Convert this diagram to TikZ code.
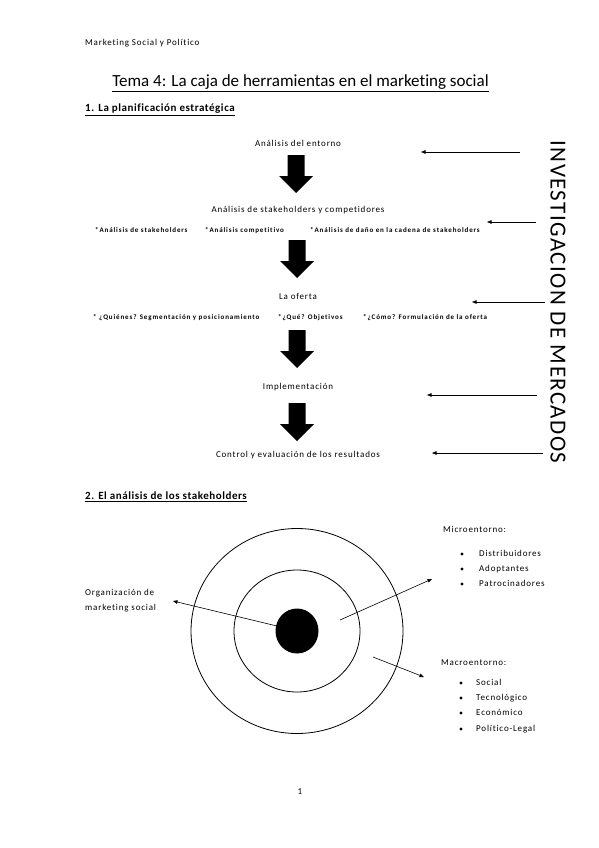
\documentclass[tikz,border=0pt]{standalone}
\usepackage{fontspec}
\setmainfont{Carlito}[Ligatures=NoCommon]
\newfontfamily\lsnine{Carlito}[LetterSpace=9,Ligatures=NoCommon]
\newfontfamily\lssub{Carlito}[LetterSpace=12.5,Ligatures=NoCommon]
\newfontfamily\lshead{Carlito}[LetterSpace=5,Ligatures=NoCommon]
\newfontfamily\lsvert{Carlito}[LetterSpace=6,Ligatures=NoCommon]
\usetikzlibrary{arrows.meta}
\tikzset{
  txt/.style={inner sep=0pt, font=\lsnine\fontsize{9}{10}\selectfont},
  stepl/.style={inner sep=0pt, text height=6.5pt, text depth=2pt, font=\lsnine\fontsize{9}{10}\selectfont},
  subl/.style={inner sep=0pt, anchor=west, text height=5pt, text depth=1.6pt, font=\lssub\bfseries\fontsize{7}{8}\selectfont},
  thin arrow/.style={draw=black, line width=0.6pt, -{Triangle[length=4.5pt,width=3.5pt]}},
  ring/.style={draw=black, line width=0.8pt},
  bul/.style={inner sep=0pt, anchor=west, text height=6.5pt, text depth=2pt, font=\lsnine\fontsize{9}{10}\selectfont},
  secl/.style={inner sep=0pt, anchor=west, font=\lshead\bfseries\fontsize{11}{13}\selectfont},
}
\newcommand{\myblockarrow}[2]{%
  \fill[black] (#1-8.5,#2) -- (#1+8.5,#2) -- (#1+8.5,#2+21) -- (#1+17,#2+21)
    -- (#1,#2+38) -- (#1-17,#2+21) -- (#1-8.5,#2+21) -- cycle;}
\begin{document}
\begin{tikzpicture}[x=1pt,y=-1pt]
\useasboundingbox (0,0) rectangle (599,848);
\fill[white] (0,0) rectangle (599,848);

% header
\node[txt, anchor=west] (hdr) at (85,43) {Marketing Social y Político};
\node[inner sep=0pt, font=\fontsize{17}{20}\selectfont] (title) at (300.5,83) {\underline{Tema 4: La caja de herramientas en el marketing social}};
\node[secl] (sec1) at (85,110) {\underline{1. La planificación estratégica}};

% steps
\node[stepl] (s1) at (298,144) {Análisis del entorno};
\node[stepl] (s2) at (298,210) {Análisis de stakeholders y competidores};
\node[stepl] (s3) at (298,297) {La oferta};
\node[stepl] (s4) at (298,387) {Implementación};
\node[stepl] (s5) at (298,455) {Control y evaluación de los resultados};

\node[subl] (a1) at (95,231) {*Análisis de stakeholders};
\node[subl] (a2) at (205,231) {*Análisis competitivo};
\node[subl] (a3) at (310,231) {*Análisis de daño en la cadena de stakeholders};
\node[subl] (b1) at (93,318) {* ¿Quiénes? Segmentación y posicionamiento};
\node[subl] (b2) at (278,318) {*¿Qué? Objetivos};
\node[subl] (b3) at (363,318) {*¿Cómo? Formulación de la oferta};

% block arrows
\myblockarrow{296}{155}
\myblockarrow{297}{240}
\myblockarrow{297}{330}
\myblockarrow{297}{403}

% research arrows
\coordinate (t1) at (520,152); \coordinate (h1) at (421,152);
\coordinate (t2) at (536,222); \coordinate (h2) at (487,222);
\coordinate (t3) at (545,302); \coordinate (h3) at (472,302);
\coordinate (t4) at (537,395); \coordinate (h4) at (427,395);
\coordinate (t5) at (543,453); \coordinate (h5) at (432,453);
\foreach \i in {1,...,5} {\draw[thin arrow] (t\i) -- (h\i);}

\node[inner sep=0pt, rotate=-90, font=\lsvert\fontsize{23}{25}\selectfont] (inv) at (558,302) {INVESTIGACION DE MERCADOS};

% section 2
\node[secl] (sec2) at (85,497) {\underline{2. El análisis de los stakeholders}};

\coordinate (c) at (297,631);
\draw[ring] (c) ellipse [x radius=106, y radius=102.5];
\draw[ring] (c) ellipse [x radius=63, y radius=61];
\fill[black] (c) ellipse [x radius=21.5, y radius=22.5];
\node[circle, inner sep=0pt, minimum size=44pt] (core) at (c) {};

\coordinate (o1) at (277,626); \coordinate (o2) at (173,601);
\coordinate (m1) at (340,620); \coordinate (m2) at (432,579);
\coordinate (k1) at (373,657); \coordinate (k2) at (424,677);
\draw[thin arrow] (o1) -- (o2);
\draw[thin arrow] (m1) -- (m2);
\draw[thin arrow] (k1) -- (k2);

\node[bul] (org1) at (85,593) {Organización de};
\node[bul] (org2) at (85,608) {marketing social};

\node[bul] (micro) at (443,530) {Microentorno:};
\foreach \y/\t in {554/Distribuidores, 569/Adoptantes, 584/Patrocinadores} {
  \fill[black] (462,\y) circle (1.6);
  \node[bul] at (479,\y) {\t};
}
\node[bul] (macro) at (441,663) {Macroentorno:};
\foreach \y/\t in {683/Social, 698/Tecnológico, 713/Económico, 729/Político-Legal} {
  \fill[black] (461,\y) circle (1.6);
  \node[bul] at (476,\y) {\t};
}

\node[txt] (pg) at (300,792) {1};
\end{tikzpicture}
\end{document}
